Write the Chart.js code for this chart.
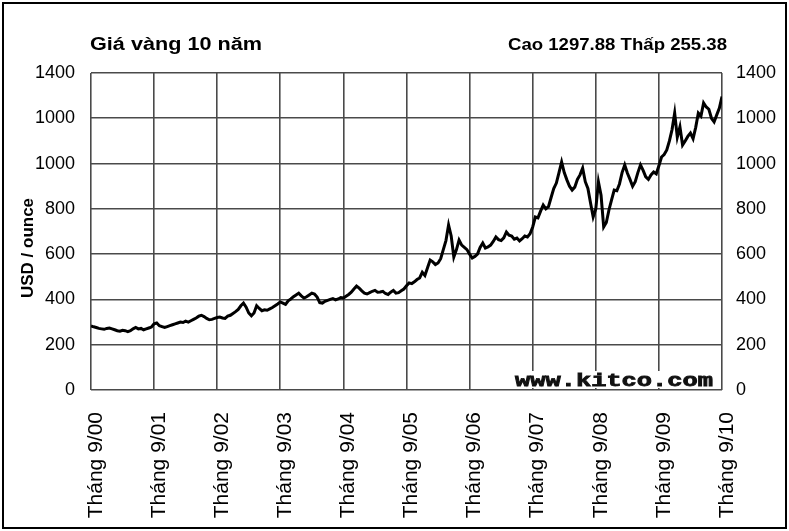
<!DOCTYPE html>
<html>
<head>
<meta charset="utf-8">
<script src="https://cdn.jsdelivr.net/npm/chart.js@4.4.1/dist/chart.umd.min.js"></script>
<style>
  html, body { margin: 0; padding: 0; background: #fff; }
  #wrap { width: 789px; height: 531px; position: relative; }
</style>
</head>
<body>
<div id="wrap"><canvas id="c" width="789" height="531"></canvas></div>
<script>
// ---- Data (semi-monthly gold prices, USD/ounce, Sep 2000 -> Sep 2010) ----
const titleText = "Giá vàng 10 năm";
const rangeText = "Cao 1297.88 Thấp 255.38";
const yAxisTitle = "USD / ounce";
const watermark = "www.kitco.com";

const xTickLabels = ["Tháng 9/00","Tháng 9/01","Tháng 9/02","Tháng 9/03","Tháng 9/04","Tháng 9/05","Tháng 9/06","Tháng 9/07","Tháng 9/08","Tháng 9/09","Tháng 9/10"];
const yTickLabels = ["0","200","400","600","800","1000","1000","1400"];

const p2000 = [283,279,276,272,270,268,272,274];
const p2001 = [270,266,262,260,264,262,258,262,270,276,270,272,266,270,274,278,292,296,284,280,276,280,284,288];
const p2002 = [292,296,300,298,304,300,306,312,318,326,330,324,316,310,312,316,320,322,318,316,326,330,338,346];
const p2003 = [356,372,384,366,340,328,340,372,360,350,354,352,358,364,372,380,389,384,378,394,402,412,420,428];
const p2004 = [416,406,412,420,428,424,410,386,384,392,396,400,404,398,402,408,406,414,422,432,446,459,450,438];
const p2005 = [428,424,430,436,440,432,433,436,426,422,432,440,428,430,438,446,460,473,470,478,488,495,520,506];
const p2006 = [540,574,566,554,561,580,620,660,729,680,587,620,662,640,630,620,600,583,590,600,630,649,627,632];
const p2007 = [640,656,676,664,660,672,698,684,680,666,671,658,668,680,676,690,720,764,760,790,817,800,810,850];
const p2008 = [890,914,960,1007,960,928,900,883,896,930,950,980,920,890,826,764,800,919,860,720,740,795,840,883];
const p2009 = [880,910,960,994,958,930,900,920,960,994,970,941,930,950,963,955,990,1029,1040,1060,1100,1150,1223,1117];
const p2010 = [1162,1082,1100,1120,1135,1110,1160,1223,1210,1268,1250,1240,1200,1184,1215,1245,1296];

const prices = [].concat(p2000,p2001,p2002,p2003,p2004,p2005,p2006,p2007,p2008,p2009,p2010);
const points = prices.map((v, i) => ({ x: i / 24, y: v }));

const FONT = "'Liberation Sans', Arial, sans-serif";
const GRID = '#4a4a4a';

const decor = {
  id: 'decor',
  afterDraw(chart) {
    const ctx = chart.ctx;
    const a = chart.chartArea;
    ctx.save();
    // outer frame
    ctx.strokeStyle = '#000';
    ctx.lineWidth = 2;
    ctx.strokeRect(3, 3, 783, 525);

    // fitted text helper
    function fitText(txt, font, x, y, w) {
      ctx.font = font;
      const m = ctx.measureText(txt).width;
      ctx.save();
      ctx.translate(x, y);
      ctx.scale(w / m, 1);
      ctx.fillStyle = '#000';
      ctx.textAlign = 'left';
      ctx.textBaseline = 'alphabetic';
      ctx.fillText(txt, 0, 0);
      ctx.restore();
    }
    fitText(titleText, "bold 18px " + FONT, a.left - 1, 50, 172);
    fitText(rangeText, "bold 16px " + FONT, 508, 50, 219);

    // y axis title
    ctx.save();
    ctx.translate(33, 248);
    ctx.rotate(-Math.PI / 2);
    ctx.font = "bold 17px " + FONT;
    ctx.fillStyle = '#000';
    ctx.textAlign = 'center';
    ctx.textBaseline = 'alphabetic';
    ctx.fillText(yAxisTitle, 0, 0);
    ctx.restore();

    // watermark with white backing
    ctx.fillStyle = '#fff';
    ctx.fillRect(512, 371, 205, 17);
    ctx.save();
    ctx.font = "bold 18px 'Liberation Mono', 'Courier New', monospace";
    const mw = ctx.measureText(watermark).width;
    ctx.translate(515, 386);
    ctx.scale(198 / mw, 1);
    ctx.fillStyle = '#111';
    ctx.strokeStyle = '#111';
    ctx.lineWidth = 0.8;
    ctx.textBaseline = 'alphabetic';
    ctx.fillText(watermark, 0, 0);
    ctx.strokeText(watermark, 0, 0);
    ctx.restore();
    ctx.restore();
  }
};

new Chart(document.getElementById('c'), {
  type: 'line',
  data: {
    datasets: [{
      data: points,
      borderColor: '#000',
      borderWidth: 3,
      pointRadius: 0,
      tension: 0,
      fill: false
    }]
  },
  options: {
    responsive: false,
    animation: false,
    events: [],
    layout: { padding: { top: 73, left: 0, right: 0, bottom: 0 } },
    plugins: { legend: { display: false }, tooltip: { enabled: false }, title: { display: false } },
    scales: {
      x: {
        type: 'linear',
        min: 0, max: 10,
        afterFit(s) { s.height = 531 - 390; },
        grid: { color: GRID, lineWidth: 1.6, drawTicks: false },
        border: { display: false },
        ticks: {
          stepSize: 1,
          autoSkip: false,
          maxRotation: 90, minRotation: 90,
          padding: 22,
          labelOffset: 5,
          color: '#000',
          font: { family: FONT, size: 21 },
          callback: (v, i) => xTickLabels[i]
        }
      },
      y: {
        position: 'left',
        min: 0, max: 1400,
        afterFit(s) { s.width = 91; },
        grid: { color: GRID, lineWidth: 1.6, drawTicks: false },
        border: { display: false },
        ticks: {
          stepSize: 200,
          padding: 16,
          color: '#000',
          font: { family: FONT, size: 18 },
          callback: (v, i) => yTickLabels[i]
        }
      },
      y2: {
        position: 'right',
        min: 0, max: 1400,
        afterFit(s) { s.width = 789 - 722; },
        grid: { display: false, drawTicks: false },
        border: { display: false },
        ticks: {
          stepSize: 200,
          padding: 14,
          color: '#000',
          font: { family: FONT, size: 18 },
          callback: (v, i) => yTickLabels[i]
        }
      }
    }
  },
  plugins: [decor]
});
</script>
</body>
</html>
